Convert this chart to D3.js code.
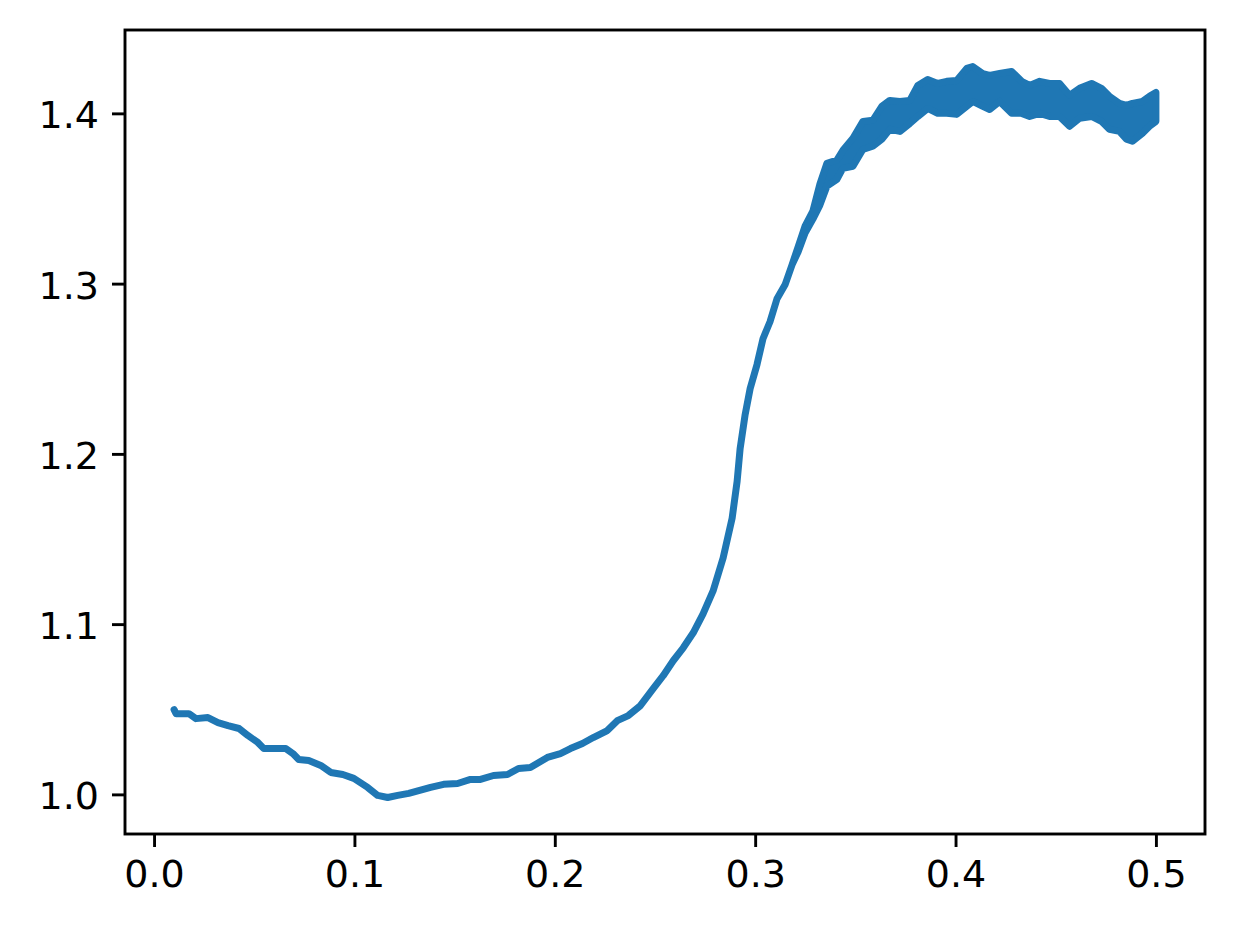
<!DOCTYPE html>
<html>
<head>
<meta charset="utf-8">
<script src="https://cdn.jsdelivr.net/npm/d3@7"></script>
<style>
  html, body { margin: 0; padding: 0; background: #fff; }
  svg { display: block; }
  text { font-family: "DejaVu Sans", sans-serif; }
</style>
</head>
<body>
<svg id="chart" width="1234" height="934"></svg>
<script>
// ---- data ----
const xValues = [
  0.0100, 0.0110, 0.0174, 0.0209, 0.0269, 0.0319, 0.0369, 0.0424, 0.0468, 0.0518,
  0.0548, 0.0583, 0.0658, 0.0693, 0.0722, 0.0772, 0.0832, 0.0882, 0.0942, 0.0997,
  0.1066, 0.1116, 0.1166, 0.1216, 0.1271, 0.1380, 0.1445, 0.1515, 0.1579, 0.1629,
  0.1694, 0.1764, 0.1819, 0.1878, 0.1963, 0.2028, 0.2078, 0.2138, 0.2192, 0.2262,
  0.2312, 0.2367, 0.2427, 0.2491, 0.2541, 0.2591, 0.2641, 0.2691, 0.2740, 0.2790,
  0.2840, 0.2885, 0.2910, 0.2925, 0.2950, 0.2975, 0.3009, 0.3039, 0.3074, 0.3109,
  0.3149, 0.3184, 0.3214, 0.3249, 0.3288, 0.3323, 0.3358, 0.3408, 0.3438, 0.3488,
  0.3538, 0.3587, 0.3632, 0.3672, 0.3722, 0.3772, 0.3812, 0.3861, 0.3911, 0.3956,
  0.4006, 0.4056, 0.4086, 0.4136, 0.4170, 0.4220, 0.4280, 0.4330, 0.4370, 0.4420,
  0.4469, 0.4519, 0.4569, 0.4619, 0.4679, 0.4728, 0.4768, 0.4818, 0.4853, 0.4883,
  0.4933, 0.4968, 0.5000
];
// upper envelope of the trace
const yHigh = [
  1.0498, 1.0474, 1.0474, 1.0445, 1.0451, 1.0422, 1.0404, 1.0387, 1.0346, 1.0305,
  1.0269, 1.0269, 1.0269, 1.0240, 1.0205, 1.0199, 1.0170, 1.0129, 1.0117, 1.0094,
  1.0041, 0.9994, 0.9982, 0.9994, 1.0006, 1.0041, 1.0059, 1.0064, 1.0088, 1.0088,
  1.0111, 1.0117, 1.0152, 1.0158, 1.0217, 1.0240, 1.0269, 1.0299, 1.0334, 1.0375,
  1.0433, 1.0463, 1.0521, 1.0621, 1.0697, 1.0785, 1.0861, 1.0949, 1.1060, 1.1195,
  1.1388, 1.1622, 1.1839, 1.2032, 1.2231, 1.2384, 1.2524, 1.2676, 1.2776, 1.2911,
  1.2993, 1.3110, 1.3215, 1.3338, 1.3426, 1.3584, 1.3707, 1.3725, 1.3783, 1.3854,
  1.3953, 1.3959, 1.4041, 1.4076, 1.4070, 1.4076, 1.4164, 1.4199, 1.4176, 1.4188,
  1.4193, 1.4264, 1.4275, 1.4234, 1.4223, 1.4234, 1.4246, 1.4188, 1.4164, 1.4188,
  1.4176, 1.4176, 1.4106, 1.4147, 1.4176, 1.4147, 1.4100, 1.4059, 1.4047, 1.4059,
  1.4070, 1.4100, 1.4123
];
// lower envelope of the trace
const yLow = [
  1.0498, 1.0474, 1.0474, 1.0445, 1.0451, 1.0422, 1.0404, 1.0387, 1.0346, 1.0305,
  1.0269, 1.0269, 1.0269, 1.0240, 1.0205, 1.0199, 1.0170, 1.0129, 1.0117, 1.0094,
  1.0041, 0.9994, 0.9982, 0.9994, 1.0006, 1.0041, 1.0059, 1.0064, 1.0088, 1.0088,
  1.0111, 1.0117, 1.0152, 1.0158, 1.0217, 1.0240, 1.0269, 1.0299, 1.0334, 1.0375,
  1.0433, 1.0463, 1.0521, 1.0621, 1.0697, 1.0785, 1.0861, 1.0949, 1.1060, 1.1195,
  1.1388, 1.1622, 1.1839, 1.2032, 1.2231, 1.2384, 1.2524, 1.2676, 1.2776, 1.2911,
  1.2993, 1.3110, 1.3186, 1.3297, 1.3379, 1.3461, 1.3572, 1.3613, 1.3678, 1.3689,
  1.3789, 1.3807, 1.3848, 1.3906, 1.3894, 1.3941, 1.3982, 1.4029, 1.4000, 1.4000,
  1.3994, 1.4041, 1.4070, 1.4041, 1.4023, 1.4070, 1.4000, 1.4000, 1.3982, 1.4000,
  1.3982, 1.3982, 1.3924, 1.3971, 1.3982, 1.3953, 1.3906, 1.3894, 1.3848, 1.3836,
  1.3883, 1.3924, 1.3953
];
const xTicks = [0.0, 0.1, 0.2, 0.3, 0.4, 0.5];
const yTicks = [1.0, 1.1, 1.2, 1.3, 1.4];

// ---- layout ----
const W = 1234, H = 934;
const plot = { left: 125, right: 1205, top: 30, bottom: 834 };
const fontPx = 38;
const tickLen = 13;
const lineColor = "#1f77b4";

const svg = d3.select("#chart");

// matplotlib-like 5% margins
const xMin = d3.min(xValues), xMax = d3.max(xValues);
const yMin = d3.min(yLow), yMax = d3.max(yHigh);
const xPad = (xMax - xMin) * 0.05, yPad = (yMax - yMin) * 0.05;

const x = d3.scaleLinear().domain([xMin - xPad, xMax + xPad]).range([plot.left, plot.right]);
const y = d3.scaleLinear().domain([yMin - yPad, yMax + yPad]).range([plot.bottom, plot.top]);

const data = xValues.map((v, i) => ({ x: v, hi: yHigh[i], lo: yLow[i] }));

// trace (drawn as a band so the noisy part fills in)
const area = d3.area()
  .x(d => x(d.x))
  .y0(d => y(d.lo))
  .y1(d => y(d.hi))
  .curve(d3.curveLinear);

svg.append("path")
  .datum(data)
  .attr("d", area)
  .attr("fill", lineColor)
  .attr("stroke", lineColor)
  .attr("stroke-width", 7)
  .attr("stroke-linejoin", "round")
  .attr("stroke-linecap", "square");

// axes
const fmt = d3.format(".1f");
const xAxis = d3.axisBottom(x).tickValues(xTicks).tickFormat(fmt).tickSize(tickLen).tickPadding(13);
const yAxis = d3.axisLeft(y).tickValues(yTicks).tickFormat(fmt).tickSize(tickLen).tickPadding(13);

const gx = svg.append("g").attr("transform", `translate(0,${plot.bottom})`).call(xAxis);
const gy = svg.append("g").attr("transform", `translate(${plot.left},0)`).call(yAxis);

[gx, gy].forEach(g => {
  g.select(".domain").remove();
  g.selectAll(".tick line").attr("stroke", "#000").attr("stroke-width", 2.9);
  g.selectAll(".tick text")
    .attr("fill", "#000")
    .style("font-family", "'DejaVu Sans', sans-serif")
    .style("font-size", fontPx + "px");
});
gx.selectAll(".tick text").attr("dy", "0.72em");
gy.selectAll(".tick text").attr("dy", "0.38em");

// frame
svg.append("rect")
  .attr("x", plot.left)
  .attr("y", plot.top)
  .attr("width", plot.right - plot.left)
  .attr("height", plot.bottom - plot.top)
  .attr("fill", "none")
  .attr("stroke", "#000")
  .attr("stroke-width", 2.9);
</script>
</body>
</html>
